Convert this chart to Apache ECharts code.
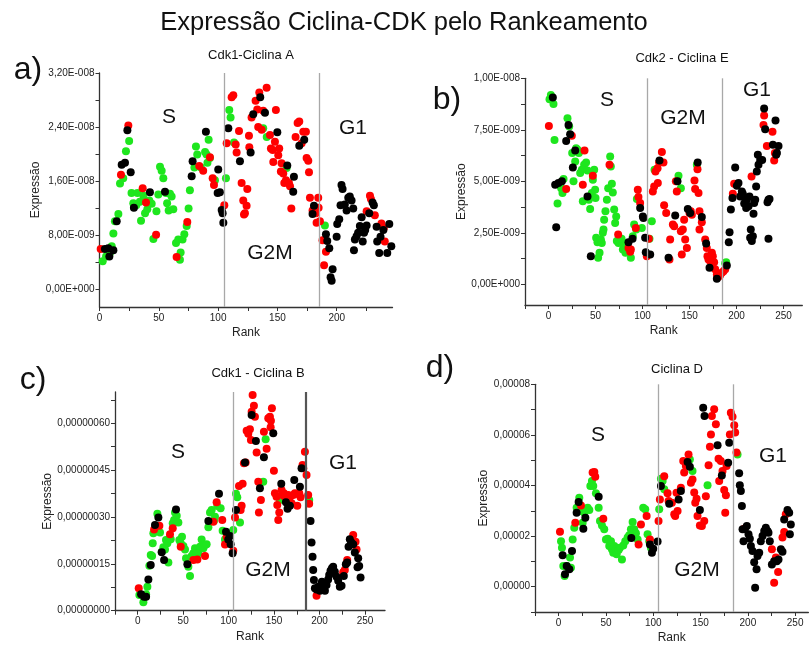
<!DOCTYPE html>
<html>
<head>
<meta charset="utf-8">
<script src="https://cdn.jsdelivr.net/npm/echarts@6/dist/echarts.min.js"></script>
<style>
  html, body { margin: 0; padding: 0; background: #fff; }
  #chart { width: 809px; height: 650px; }
</style>
</head>
<body>
<div id="chart"></div>
<script>
// a) Cdk1-Ciclina A  (valores x 1e-8)
var aGreen = [[2.7,0.41],[5.5,0.48],[8.8,0.53],[10.3,0.63],[11.7,0.82],[13,1.0],[15.9,1.11],[17.3,1.56],[20,1.64],[22.3,2.04],[25,2.19],[27,1.42],[28.5,1.27],[31,1.24],[32,1.42],[34,1.29],[35,1.01],[37,1.38],[38.4,1.12],[40.3,1.18],[42,1.31],[44,1.26],[45.4,0.74],[48,1.15],[49.6,1.40],[51,1.81],[52.4,1.75],[53.8,1.64],[56,1.42],[57,1.27],[58.3,1.16],[59.4,1.41],[60.8,1.37],[62.2,1.18],[64.5,0.68],[66.4,0.73],[67.8,0.43],[68.4,0.54],[70,0.73],[71.5,0.81],[73.5,0.93],[75.1,1.19],[76.2,1.46],[80,1.80],[81.3,2.11],[82.4,1.99],[85.5,1.80],[89,2.03],[90.3,1.99],[92,2.21],[91,1.87],[93.1,1.94],[97.3,1.61],[106.6,1.64],[109.4,2.65],[110.5,2.54],[113.4,2.17],[138,2.38],[141,2.25],[157.7,1.79],[190,0.94]];
var aRed = [[1,0.59],[18.1,1.69],[24.3,2.42],[36.4,1.49],[39.2,1.28],[47.7,0.80],[65,0.47],[74,0.99],[84.1,1.82],[87.4,1.75],[93.1,1.95],[95.4,1.64],[96.5,1.54],[105.2,1.24],[107.2,2.16],[111.4,2.84],[112.8,2.87],[114.8,2.14],[115.6,2.02],[117.6,2.34],[119.8,1.57],[121.2,1.31],[121.8,1.10],[122.6,1.12],[124,1.23],[124.6,1.48],[126,2.27],[126.3,2.10],[128.2,2.54],[131.6,2.79],[133,2.66],[133.8,2.40],[134.7,2.91],[136.7,2.36],[138,2.64],[140.9,2.98],[143.7,2.28],[144.5,2.08],[146,2.06],[146.5,1.88],[147.9,2.18],[148.7,2.65],[150.7,1.98],[151.5,2.08],[152.9,1.74],[153.5,1.86],[154.9,1.71],[155.8,1.57],[157.2,1.61],[159.7,1.57],[160.6,1.52],[161.7,1.19],[165.3,2.25],[167,2.46],[168.4,2.48],[170.4,2.16],[171.8,2.33],[174,2.33],[174.6,1.94],[176,1.90],[176.6,1.73],[177.4,1.35],[179.6,1.16],[182.4,1.12],[183,0.98],[184.4,1.35],[184.7,1.20],[185.8,1.00],[188,0.72],[190.9,0.55],[189.3,0.35],[225.2,1.15],[228,1.38],[228.8,1.33],[232.1,1.09],[237.7,0.97],[239.7,0.90],[240.5,0.70]];
var aBlack = [[4.6,0.59],[7.4,0.60],[8.3,0.48],[11.7,0.57],[14.5,1.0],[18.7,1.84],[21.5,1.87],[23.5,2.35],[26.3,1.73],[29,1.20],[42.5,1.43],[55.2,1.44],[77.7,1.67],[78.5,1.89],[89.7,2.33],[100.1,1.77],[99.6,1.42],[101.5,1.43],[103,1.17],[103.8,1.12],[104.4,0.98],[108.6,2.38],[118.4,1.89],[127.4,2.02],[129.6,2.59],[135.5,2.84],[139.5,2.61],[149.9,2.32],[158.3,1.83],[163.9,1.66],[163.3,1.44],[168.4,2.12],[172.6,2.21],[179.6,1.11],[180.8,1.23],[190.9,0.81],[192,0.71],[193.7,0.60],[194.8,0.17],[195.7,0.12],[196.5,0.29],[199.9,0.77],[200.4,0.96],[202.1,1.03],[203.2,1.24],[204,1.54],[204.9,1.48],[206.8,1.25],[208.3,1.16],[209.7,1.35],[211,1.37],[212.5,1.31],[213.9,1.19],[214.5,0.57],[215.3,0.73],[216.7,0.78],[218,0.83],[219.5,0.93],[221,1.06],[221.9,0.70],[223,0.83],[224,0.87],[225.2,0.94],[227.4,1.12],[230.2,1.28],[231.3,1.24],[233.6,0.92],[234.1,0.70],[235.8,0.53],[236.9,0.77],[239.3,0.87],[242.6,0.53],[244.3,0.96],[246,0.63]];

// b) Cdk2 - Ciclina E  (valores x 1e-9)
var bGreen = [[2.5,9.19],[1.1,8.98],[5.3,8.75],[6.4,7.01],[9.6,3.92],[12.4,4.84],[13.5,4.67],[14.9,4.43],[16,5.11],[20.2,8.06],[22,7.66],[25.2,6.37],[26.6,5.00],[28.4,5.96],[29.4,6.61],[30.9,6.53],[32.3,6.37],[33.7,5.40],[35.5,5.56],[36.5,4.03],[37.9,5.80],[40,5.92],[41.5,5.53],[42.9,4.11],[44.3,3.66],[46.1,4.43],[47.2,5.08],[48.6,5.56],[49.6,4.59],[50,4.19],[50.7,2.26],[52.1,2.05],[52.8,1.29],[54.3,1.53],[55.7,2.18],[56.7,2.01],[57.8,2.50],[58.5,2.66],[59.2,3.14],[60.6,3.55],[62.1,4.11],[63.5,4.67],[65.6,6.21],[66.3,5.72],[67.4,4.88],[68.4,4.46],[69.9,3.63],[70.9,2.98],[72,3.30],[72.7,2.10],[74.5,2.01],[76.2,2.14],[77.7,2.21],[79.1,1.69],[80.5,1.85],[81.9,1.53],[83.3,2.01],[87.6,1.29],[89.7,2.34],[91.1,2.90],[93.3,2.66],[94,4.14],[99.3,2.74],[107.4,2.21],[109.9,3.06],[112.8,5.56],[138.3,5.27],[140.8,4.67],[157.8,5.80],[189,1.08],[188,1.02]];
var bRed = [[0.4,7.69],[18.8,4.63],[24.8,7.21],[38.3,6.50],[36.5,4.84],[47.2,5.27],[64.9,5.80],[74.1,2.42],[85.1,1.77],[86.9,1.58],[87.6,1.69],[92.9,2.74],[95,4.59],[95.7,4.24],[97.5,3.95],[104.6,1.37],[106.7,2.21],[111,4.51],[112.4,4.75],[113.8,5.48],[116,5.64],[116.3,4.92],[117.7,5.93],[120.6,6.42],[122.3,5.92],[123,3.84],[125.2,3.47],[128.7,1.21],[129.4,2.18],[132.3,2.90],[133.7,2.82],[136.5,4.51],[135.5,5.00],[140.8,2.58],[141.8,1.45],[142.9,2.66],[144.3,3.14],[145.4,2.18],[147.2,1.77],[150,3.47],[151.4,3.55],[152.5,3.38],[155.3,5.04],[156,4.63],[158.5,5.59],[159.6,4.43],[160.6,3.55],[160.6,2.66],[163.1,3.01],[166.7,2.18],[168.4,1.77],[169.1,1.37],[170.2,1.21],[171.9,1.13],[173.8,1.53],[174.8,1.37],[176.2,1.08],[177.3,0.73],[179.1,0.48],[180.9,0.37],[182.6,0.44],[184.4,0.56],[186.2,0.64],[188,0.73],[197.5,4.88],[196.1,4.40],[216,5.24],[228.7,7.74],[229.4,8.20],[232.3,6.72],[238.3,7.41],[240.1,6.01],[240.8,6.37]];
var bBlack = [[4.6,9.07],[8.2,2.77],[7.1,4.84],[10.6,4.92],[14.2,5.00],[18.8,6.96],[21.3,7.74],[23,7.29],[25.9,5.67],[28.4,6.50],[41.5,4.27],[45,1.37],[85.1,2.05],[89.4,2.22],[97.5,3.71],[100.4,3.30],[101,3.22],[102.8,2.26],[103.5,1.56],[108.2,1.45],[118.1,6.01],[127.7,1.29],[134.8,3.34],[137.2,5.00],[148.2,3.66],[150.7,3.47],[158.7,5.92],[163.1,3.27],[167.7,1.98],[171.3,0.81],[179.1,0.27],[189.7,0.92],[192.6,2.53],[191.8,2.05],[194,3.63],[195.7,4.19],[198.6,5.67],[200.4,4.79],[202.1,4.92],[203.9,4.27],[205.7,4.51],[206.7,4.40],[207.4,4.27],[208.2,3.92],[210.3,3.71],[211,4.11],[212.8,3.79],[213.8,4.27],[214.5,2.26],[215.2,2.66],[216.3,2.10],[217.4,2.34],[218.1,3.43],[218.8,3.95],[219.9,4.11],[220.9,4.75],[221.6,5.48],[222.7,6.29],[223.4,5.80],[225.2,6.04],[227.3,6.04],[229.4,8.54],[230.5,7.53],[233,3.98],[234,4.11],[235.1,4.14],[234,2.21],[238.7,6.77],[241.5,7.95],[243,6.37],[244.7,6.72],[242.2,6.29]];

// c) Cdk1 - Ciclina B  (valores x 1e-7)
var cGreen = [[1.8,0.50],[6.2,0.27],[9.2,0.53],[10.6,0.77],[12.8,1.44],[14.3,1.78],[15.8,1.75],[16.5,2.16],[17.2,2.48],[21.6,3.10],[24.5,2.50],[26.4,1.89],[28.2,2.03],[30,1.96],[31.1,2.26],[32.6,2.16],[33.7,1.54],[34.8,2.32],[36.3,2.29],[38.5,2.80],[40,2.90],[41,3.14],[42.9,3.04],[44.7,2.82],[45.8,2.26],[47.3,2.16],[48.7,2.37],[50.2,2.07],[52,1.96],[53.1,1.68],[55.7,1.41],[57.5,1.11],[59.3,1.75],[61.2,1.84],[63,2.00],[64.8,1.84],[66.7,1.84],[68.5,2.05],[70.3,2.28],[72.2,2.00],[74,2.10],[75.8,2.13],[77.7,2.67],[79.5,3.14],[81.3,3.22],[83.9,2.88],[85,3.01],[87.5,3.35],[91.2,3.28],[93.4,2.56],[96,2.28],[105.1,2.58],[108.1,3.74],[109.5,3.63],[112.5,2.82],[140.7,5.49],[138.1,4.13],[156.4,3.54],[188.6,3.54]];
var cRed = [[1.1,0.72],[18,2.60],[23.8,2.72],[35.5,2.45],[38.5,2.64],[47.3,2.05],[61.2,1.62],[65.6,1.64],[74,1.75],[83.2,2.85],[86.8,3.47],[93,2.90],[96,2.12],[97.8,2.37],[105.1,1.92],[107,2.98],[113.2,3.22],[114.3,3.36],[111.4,3.99],[115.4,4.06],[116.8,4.72],[118.7,4.74],[119.8,5.76],[121.6,5.66],[123.4,5.81],[124.5,5.46],[125.3,6.37],[126.4,6.90],[127.8,6.56],[128.9,6.21],[130.8,5.06],[132.6,4.13],[133.3,3.14],[135.5,3.54],[138.8,5.73],[141.8,5.18],[143.6,6.16],[145.4,6.21],[146.2,5.87],[147.6,6.48],[146.5,6.08],[149.8,4.48],[150.9,3.76],[152.7,3.65],[153.5,3.38],[154.6,2.90],[155.7,3.14],[158.2,3.86],[159.3,3.70],[160.8,3.76],[161.9,3.65],[163.7,3.67],[165.6,3.70],[166.7,3.60],[168.1,3.67],[169.2,3.44],[171.1,3.70],[172.9,3.76],[174.7,3.74],[175.5,3.36],[177.7,3.76],[179.1,3.63],[181.3,4.66],[182.1,4.56],[183.9,5.09],[185.7,4.34],[187.5,3.70],[188.6,3.42],[196.7,0.48],[226,1.23],[227.8,1.30],[230.4,1.62],[237,2.42],[239.6,2.21],[240.7,1.96]];
var cBlack = [[3.7,0.53],[7,0.45],[9.2,0.45],[11.7,1.00],[14.3,1.46],[19,2.74],[22.7,2.98],[26.4,1.87],[29,1.62],[42.1,3.24],[54.6,1.49],[77.7,2.87],[89.4,3.74],[97.1,2.53],[99.6,2.28],[101.5,2.39],[102.2,2.13],[104.4,1.84],[108.1,3.22],[118,4.74],[125.3,6.26],[130,5.43],[134.4,3.92],[138.8,4.91],[149.1,5.68],[157.9,4.06],[163,3.47],[164.8,3.26],[167.4,3.36],[172.2,4.18],[178.4,3.97],[180.2,4.56],[190.1,2.87],[191.2,2.18],[192.3,1.73],[193,1.30],[193.8,0.98],[194.9,0.72],[196.7,0.68],[198.5,0.77],[200.4,0.64],[201.5,0.82],[202.6,0.93],[204,0.77],[205.9,0.64],[207.7,0.82],[209.5,1.00],[210.6,1.14],[212.1,1.28],[213.6,1.36],[215,1.41],[216.8,1.25],[218.7,1.09],[220.5,0.96],[222.3,0.77],[224.2,0.80],[226.7,1.11],[228.9,1.49],[230.4,1.54],[231.9,2.05],[233.3,2.29],[234.8,2.19],[237,2.13],[238.8,1.86],[241.8,1.39],[242.5,1.68],[243.6,1.43],[245.1,1.06]];

// d) Ciclina D  (valores x 1e-5)
var dGreen = [[2.5,1.80],[3.5,1.54],[4.9,0.82],[6.3,0.42],[8.5,0.82],[10.6,0.71],[12,1.15],[13,0.75],[14.8,1.87],[16.5,2.33],[19,3.12],[21.8,3.52],[23.6,2.99],[25.4,2.53],[27.1,2.92],[30.6,3.12],[32.4,3.03],[33.5,3.98],[35.2,4.18],[36.6,3.98],[39.4,3.69],[42.3,3.12],[43.7,2.60],[45.8,2.42],[48.2,2.27],[50,1.87],[51.8,1.90],[53.5,1.61],[55.3,1.80],[56.3,1.48],[57.7,1.34],[58.8,1.61],[60.6,1.48],[61.3,1.28],[63.4,1.45],[64.8,1.54],[66.9,1.08],[68.3,1.63],[70.4,1.80],[72.9,1.94],[74.6,2.03],[76.4,2.27],[78.2,2.56],[79.9,2.27],[81.7,2.11],[83.5,1.87],[89.4,3.12],[91.5,3.06],[94,2.07],[95.8,1.80],[97.5,1.54],[106.3,3.06],[108.1,4.27],[109.9,4.18],[111.6,3.85],[138.7,5.03],[141.5,4.57],[157.4,4.01],[189.1,5.23]];
var dRed = [[1.4,2.17],[17.6,2.53],[23.6,3.21],[35.9,4.51],[37.7,4.53],[38.7,4.35],[47.2,2.69],[84.5,1.67],[87,2.46],[93,2.79],[96.5,1.87],[105.6,2.60],[107,3.45],[111.6,4.37],[115.1,3.69],[116.2,3.39],[119.7,3.32],[122.2,2.86],[123.2,2.79],[124.6,3.71],[125.7,2.99],[129.2,3.91],[131.7,4.97],[132.7,4.51],[134.5,4.77],[137.3,5.23],[139.8,4.11],[141.5,4.24],[143.3,3.72],[144.4,3.32],[145.8,3.48],[146.8,2.79],[149.3,2.42],[151.4,2.40],[153.9,2.60],[155.6,3.58],[158.5,4.80],[159.9,5.53],[161,6.02],[162,6.75],[164.4,7.01],[166.2,6.42],[169,5.06],[169.7,4.18],[171.4,4.97],[173.2,4.57],[175,3.82],[176.8,3.61],[176.1,2.92],[177.5,4.77],[181,6.02],[182,6.88],[183.8,6.72],[185.6,6.38],[186.6,6.09],[188,5.30],[196.1,2.29],[225.4,1.48],[227.8,0.16],[229.6,1.15],[232,0.58],[236.6,1.94],[238.4,2.16],[240.1,2.86]];
var dBlack = [[4.2,1.24],[6.7,0.49],[8.5,0.82],[11.3,0.69],[14.1,1.41],[19,2.92],[21.1,3.35],[26.1,2.29],[28.2,2.73],[42.3,3.56],[76.8,1.92],[96.5,1.67],[98.6,1.34],[100,1.50],[104.6,1.79],[108.1,3.98],[116.9,3.28],[126.8,3.45],[129.2,3.78],[136.3,4.93],[138.7,4.74],[149.3,3.03],[152.8,7.07],[154.2,6.75],[168,5.59],[172.5,4.40],[180.3,5.69],[179.2,4.90],[190.8,4.48],[191.5,4.01],[192.6,3.78],[193.7,3.19],[194.4,2.27],[195.4,1.80],[196.8,2.27],[198.9,2.40],[200.7,2.07],[202.1,1.90],[203.2,1.61],[204.9,1.41],[206.7,0.97],[207.7,-0.04],[209.2,0.69],[210.2,1.21],[212,1.34],[213.7,1.80],[215.5,2.00],[217.3,2.20],[219,2.33],[220.8,2.20],[221.8,2.13],[223.2,1.80],[225.4,0.88],[227.8,1.01],[230.6,1.01],[232.4,1.08],[234.9,1.48],[236.6,1.38],[238.4,2.66],[241.9,3.03],[243.7,2.92],[245.4,2.46],[244.4,2.07]];

var phaseLines = [105, 185];
var xTickLabels = [0, 50, 100, 150, 200, 250];
var yTicksA = [0, 0.8e-8, 1.6e-8, 2.4e-8, 3.2e-8];
var yTicksB = [0, 2.5e-9, 5e-9, 7.5e-9, 1e-8];
var yTicksC = [0, 1.5e-7, 3e-7, 4.5e-7, 6e-7];
var yTicksD = [0, 2e-5, 4e-5, 6e-5, 8e-5];

var FONT = '"Liberation Sans", Arial, sans-serif';

function sci(v) {
  if (Math.abs(v) < 1e-20) return '0,00E+000';
  var e = Math.floor(Math.log10(Math.abs(v)) + 1e-9);
  var m = v / Math.pow(10, e);
  return m.toFixed(2).replace('.', ',') + 'E' + (e < 0 ? '-' : '+') + String(Math.abs(e)).padStart(3, '0');
}
function dec(n) {
  return function (v) { return v.toFixed(n).replace('.', ','); };
}
function steps(from, to, step) {
  var out = [];
  var n = Math.round((to - from) / step);
  for (var i = 0; i <= n; i++) out.push(from + i * step);
  return out;
}
function scaled(arr, s) {
  return arr.map(function (p) { return [p[0], p[1] * s]; });
}

var panels = [
  { grid: { left: 99.5, top: 73, width: 293, height: 234 }, xmin: 0, xmax: 247, ymin: -0.27e-8, ymax: 3.2e-8,
    xTicks: steps(0, 225, 25), yLabels: yTicksA, yTicks: steps(0, 3.2e-8, 0.4e-8), fmt: sci, nameGap: 52,
    data: [aGreen, aRed, aBlack], s: 1e-8, lineColors: ['#a8a8a8', '#a8a8a8'] },
  { grid: { left: 525, top: 78.3, width: 277.3, height: 226.7 }, xmin: -25, xmax: 270, ymin: -1e-9, ymax: 1e-8,
    xTicks: steps(-25, 250, 25), yLabels: yTicksB, yTicks: steps(0, 1e-8, 1.25e-9), fmt: sci, nameGap: 56,
    data: [bGreen, bRed, bBlack], s: 1e-9, lineColors: ['#a8a8a8', '#a8a8a8'] },
  { grid: { left: 115, top: 392, width: 270, height: 218.7 }, xmin: -25, xmax: 272, ymin: 0, ymax: 7e-7,
    xTicks: steps(-25, 250, 25), yLabels: yTicksC, yTicks: steps(0, 6.75e-7, 0.75e-7), fmt: dec(8), nameGap: 53,
    data: [cGreen, cRed, cBlack], s: 1e-7, lineColors: ['#a8a8a8', '#555555'] },
  { grid: { left: 535, top: 384.3, width: 273.4, height: 227.7 }, xmin: -25, xmax: 264, ymin: -1e-5, ymax: 8e-5,
    xTicks: steps(-25, 250, 25), yLabels: yTicksD, yTicks: steps(-1e-5, 8e-5, 1e-5), fmt: dec(5), nameGap: 42,
    data: [dGreen, dRed, dBlack], s: 1e-5, lineColors: ['#a8a8a8', '#a8a8a8'] }
];

var colors = ['#1ee61e', '#ff0000', '#000000'];
var grids = [], xAxes = [], yAxes = [], series = [];
var axisLine = { onZero: false, lineStyle: { color: '#333', width: 1.3 } };

panels.forEach(function (p, i) {
  var g = Object.assign({ outerBoundsMode: 'none', containLabel: false }, p.grid);
  grids.push(g);
  xAxes.push({
    gridIndex: i, type: 'value', min: p.xmin, max: p.xmax,
    name: 'Rank', nameLocation: 'middle', nameGap: 20,
    nameTextStyle: { fontFamily: FONT, fontSize: 12, color: '#222' },
    axisLine: axisLine, splitLine: { show: false },
    axisTick: { customValues: p.xTicks, length: 4, lineStyle: { color: '#333' } },
    axisLabel: { customValues: xTickLabels, fontFamily: FONT, fontSize: 10, color: '#222', margin: 6 }
  });
  yAxes.push({
    gridIndex: i, type: 'value', min: p.ymin, max: p.ymax,
    name: 'Expressão', nameLocation: 'middle', nameGap: p.nameGap,
    nameTextStyle: { fontFamily: FONT, fontSize: 12, color: '#222' },
    axisLine: axisLine, splitLine: { show: false },
    axisTick: { customValues: p.yTicks, length: 4, lineStyle: { color: '#333' } },
    axisLabel: { customValues: p.yLabels, formatter: p.fmt, fontFamily: FONT, fontSize: 10, color: '#222', margin: 5 }
  });
  p.data.forEach(function (arr, k) {
    var sr = {
      type: 'scatter', xAxisIndex: i, yAxisIndex: i,
      symbolSize: 8, itemStyle: { color: colors[k], opacity: 1 },
      data: scaled(arr, p.s)
    };
    if (k === 0) {
      // linhas de separação das fases
      sr.markLine = {
        silent: true, symbol: ['none', 'none'], label: { show: false },
        data: phaseLines.map(function (x, j) {
          return { xAxis: x, lineStyle: { type: 'solid', color: p.lineColors[j], width: j === 1 && i === 2 ? 2.2 : 1.3 } };
        })
      };
    }
    series.push(sr);
  });
});

function txt(t, x, y, size) {
  return { type: 'text', x: x, y: y, style: { text: t, font: size + 'px ' + FONT, fill: '#111', align: 'center', verticalAlign: 'middle' } };
}

var graphics = [
  txt('Expressão Ciclina-CDK pelo Rankeamento', 404, 23, 25.5),
  txt('a)', 28, 70, 32), txt('b)', 447, 100, 32), txt('c)', 33, 380, 32), txt('d)', 440, 368, 32),
  txt('Cdk1-Ciclina A', 251, 55, 13), txt('Cdk2 - Ciclina E', 682, 58, 13),
  txt('Cdk1 - Ciclina B', 258, 373, 13), txt('Ciclina D', 677, 369, 13),
  txt('S', 169, 117, 21), txt('G2M', 270, 253, 21), txt('G1', 353, 128, 21),
  txt('S', 607, 100, 21), txt('G2M', 683, 118, 21), txt('G1', 757, 90, 21),
  txt('S', 178, 452, 21), txt('G2M', 268, 570, 21), txt('G1', 343, 463, 21),
  txt('S', 598, 435, 21), txt('G2M', 697, 570, 21), txt('G1', 773, 456, 21)
];

var myChart = echarts.init(document.getElementById('chart'));
myChart.setOption({
  animation: false,
  backgroundColor: '#fff',
  grid: grids,
  xAxis: xAxes,
  yAxis: yAxes,
  series: series,
  graphic: graphics
});
</script>
</body>
</html>
